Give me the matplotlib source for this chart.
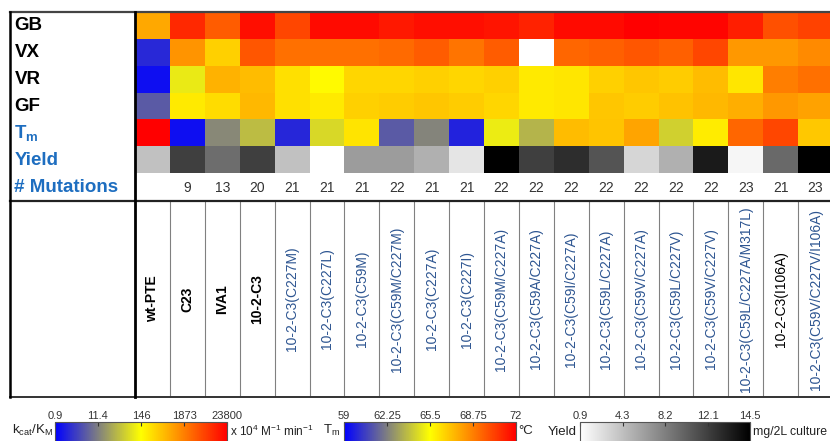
import numpy as np
import matplotlib
matplotlib.use('Agg')
import matplotlib.pyplot as plt
from matplotlib.cm import ScalarMappable
from matplotlib.colors import LinearSegmentedColormap, LogNorm, Normalize
from matplotlib.ticker import NullLocator

plt.rcParams['font.family'] = ['Liberation Sans', 'DejaVu Sans']
plt.rcParams['mathtext.fontset'] = 'custom'
plt.rcParams['mathtext.rm'] = 'Liberation Sans'
plt.rcParams['mathtext.it'] = 'Liberation Sans:italic'
plt.rcParams['mathtext.bf'] = 'Liberation Sans:bold'

variants = ['wt-PTE', 'C23', 'IVA1', '10-2-C3',
            '10-2-C3(C227M)', '10-2-C3(C227L)', '10-2-C3(C59M)', '10-2-C3(C59M/C227M)',
            '10-2-C3(C227A)', '10-2-C3(C227I)', '10-2-C3(C59M/C227A)', '10-2-C3(C59A/C227A)',
            '10-2-C3(C59I/C227A)', '10-2-C3(C59L/C227A)', '10-2-C3(C59V/C227A)', '10-2-C3(C59L/C227V)',
            '10-2-C3(C59V/C227V)', '10-2-C3(C59L/C227A/M317L)', '10-2-C3(I106A)',
            '10-2-C3(C59V/C227V/I106A)']
mutations = ['', '9', '13', '20', '21', '21', '21', '22', '21', '21',
             '22', '22', '22', '22', '22', '22', '22', '23', '21', '23']

# kcat/KM, x 10^4 M-1 min-1 (nan = not measured)
gb = [830, 10500, 3800, 17500, 5700, 19400, 19400, 14300, 17500, 17500,
      15800, 11700, 19400, 19400, 23800, 21500, 21500, 12900, 4660, 6300]
vx = [2.0, 1240, 366, 4210, 2530, 2530, 2530, 2800, 3800, 2290,
      3800, np.nan, 3100, 3440, 4210, 3440, 5700, 1120, 1120, 1520]
vr = [1.2, 97, 670, 550, 270, 162, 330, 330, 366, 330,
      366, 220, 243, 366, 448, 405, 550, 243, 1870, 2530]
gf = [5.6, 220, 299, 608, 270, 220, 366, 405, 448, 405,
      330, 220, 243, 448, 405, 497, 608, 746, 1120, 914]
# melting temperature, deg C
tm = [72.0, 59.4, 62.5, 63.8, 60.0, 64.5, 66.2, 61.3, 62.4, 59.9,
      65.0, 63.6, 67.2, 67.0, 67.8, 64.3, 66.0, 69.4, 70.2, 66.9]
# expression yield, mg / 2 L culture
yield_mg = [4.2, 11.1, 8.7, 11.1, 4.2, 0.9, 6.2, 6.2, 5.1, 2.3,
            14.5, 11.1, 12.1, 10.0, 3.1, 5.1, 13.1, 1.4, 8.9, 14.5]

row_names = ['GB', 'VX', 'VR', 'GF', r'T$_{\mathbf{m}}$', 'Yield', '# Mutations']
kcat_ticks = [0.9, 11.4, 146, 1873, 23800]
tm_ticks = [59, 62.25, 65.5, 68.75, 72]
yield_tick_labels = ['0.9', '4.3', '8.2', '12.1', '14.5']

# ---------------------------------------------------------------
W, H = 830, 441
COLW = 34.9
BLUE = '#1e6ec0'
NAVY = '#2d5591'

heat = LinearSegmentedColormap.from_list('byr', ['#0000ff', '#ffff00', '#ff0000'])
grey = LinearSegmentedColormap.from_list('wk', ['#ffffff', '#000000'])
kcat_norm = LogNorm(vmin=kcat_ticks[0], vmax=kcat_ticks[-1])
tm_norm = Normalize(vmin=tm_ticks[0], vmax=tm_ticks[-1])
yield_norm = Normalize(vmin=0.9, vmax=14.5)

fig = plt.figure(figsize=(W / 100, H / 100), dpi=100)


def add_ax(x0, y0, x1, y1, **kw):
    # axes placed in pixel units, y measured from the top
    return fig.add_axes([x0 / W, 1 - y1 / H, (x1 - x0) / W, (y1 - y0) / H], **kw)


n = len(variants)
right = 135 + n * COLW

# heat map rows
ax = add_ax(135, 12, right, 200)
x = np.arange(n + 1)
kinetic = np.ma.masked_invalid(np.array([gb, vx, vr, gf], dtype=float))
ax.pcolormesh(x, np.arange(5), kinetic, cmap=heat, norm=kcat_norm, antialiased=False)
ax.pcolormesh(x, [4, 5], np.array([tm]), cmap=heat, norm=tm_norm, antialiased=False)
ax.pcolormesh(x, [5, 6], np.array([yield_mg]), cmap=grey, norm=yield_norm, antialiased=False)
for i, m in enumerate(mutations):
    ax.text(i + 0.5, 6.55, m, ha='center', va='center', fontsize=10, color='#333333')
ax.set_xlim(0, n)
ax.set_ylim(7, 0)
ax.axis('off')

# row names
axr = add_ax(10, 12, 135, 200)
for j, name in enumerate(row_names):
    axr.text(0.035, j + 0.52, name, ha='left', va='center', fontsize=13.5,
             fontweight='bold', color='black' if j < 4 else BLUE)
axr.set_xlim(0, 1)
axr.set_ylim(7, 0)
axr.axis('off')

# variant names
axl = add_ax(135, 201, right, 397)
for i in range(1, n):
    axl.axvline(i, color='#808080', lw=0.8)
for i, name in enumerate(variants):
    parent = i < 4
    color = 'black' if (parent or name.endswith('(I106A)')) else NAVY
    axl.text(i + 0.5, 0.5, name, rotation=90, ha='center', va='center', fontsize=10,
             color=color, fontweight='bold' if parent else 'normal')
axl.set_xlim(0, n)
axl.set_ylim(0, 1)
axl.axis('off')

# table frame
axf = fig.add_axes([0, 0, 1, 1], zorder=5)
axf.set_xlim(0, W)
axf.set_ylim(H, 0)
axf.axis('off')
axf.plot([10, W], [12, 12], color='#444444', lw=1.6)
axf.plot([10, W], [201, 201], color='#222222', lw=1.6)
axf.plot([10, W], [397, 397], color='#333333', lw=1.4)
axf.plot([10, 10], [12, 397], color='black', lw=1.8)
axf.plot([135, 135], [12, 397], color='black', lw=2.0)


def colorbar(x0, x1, cmap, norm, ticks, labels):
    cax = add_ax(x0, 422, x1, 447)
    cb = fig.colorbar(ScalarMappable(norm=norm, cmap=cmap), cax=cax,
                      orientation='horizontal', ticks=ticks)
    cax.xaxis.set_minor_locator(NullLocator())
    cax.set_xticklabels(labels)
    cax.xaxis.set_ticks_position('both')
    cax.tick_params(which='both', direction='in', length=3, width=0.8,
                    labeltop=True, labelbottom=False, labelsize=8, pad=1,
                    colors='#333333')
    cb.outline.set_edgecolor('#555555')
    cb.outline.set_linewidth(0.8)
    return cb


colorbar(55, 227, heat, kcat_norm, kcat_ticks, [f'{v:g}' for v in kcat_ticks])
colorbar(344, 516, heat, tm_norm, tm_ticks, [f'{v:g}' for v in tm_ticks])
colorbar(580, 750, grey, yield_norm, np.linspace(0.9, 14.5, len(yield_tick_labels)),
         yield_tick_labels)

axf.text(53, 430, r'k$_{\mathrm{cat}}$/K$_{\mathrm{M}}$', ha='right', va='center', fontsize=9.5, color='#222222')
axf.text(230, 431, r'x 10$^{4}$ M$^{-1}$ min$^{-1}$', ha='left', va='center', fontsize=8.5, color='#222222')
axf.text(340, 430, r'T$_{\mathrm{m}}$', ha='right', va='center', fontsize=9.5, color='#222222')
axf.text(518, 431, '°C', ha='left', va='center', fontsize=9.5, color='#222222')
axf.text(577, 432, 'Yield', ha='right', va='center', fontsize=9.5, color='#222222')
axf.text(753, 432, 'mg/2L culture', ha='left', va='center', fontsize=8.8, color='#222222')

fig.savefig('out.png', dpi=100)
